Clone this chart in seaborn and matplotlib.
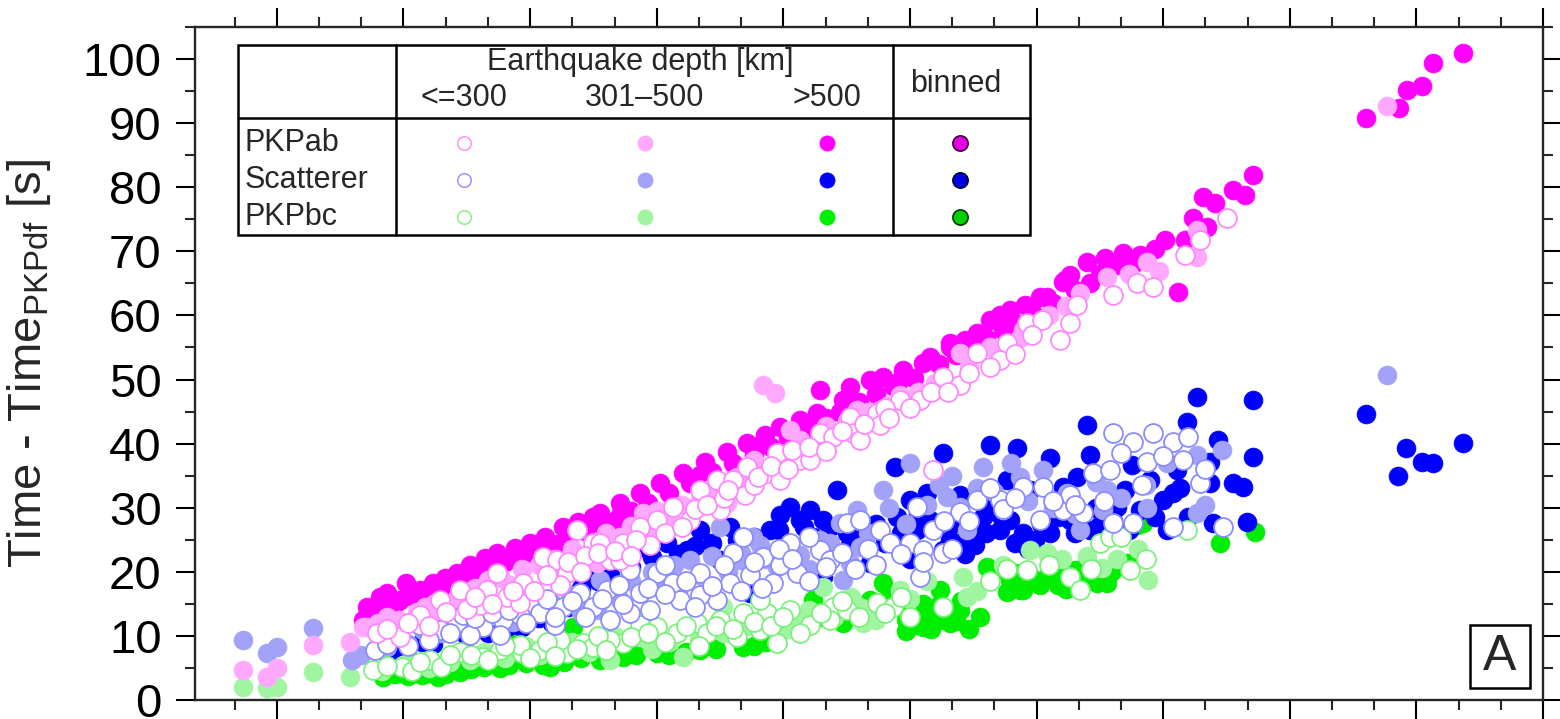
import matplotlib
matplotlib.use("Agg")
import matplotlib.pyplot as plt
from matplotlib.patches import Rectangle
from matplotlib.ticker import MultipleLocator
import seaborn as sns
import pandas as pd

# ---------------- data ----------------
phases = ["PKPab", "Scatterer", "PKPbc"]
depth_classes = ["<=300", "301–500", ">500"]
y_ticks = [0, 10, 20, 30, 40, 50, 60, 70, 80, 90, 100]

pkpab_deep = [(2.04,12.5),(2.13,14.5),(2.44,16.1),(2.61,16.7),(3.06,18.3),(2.91,15.6),(3.39,17.2),(3.70,18.3),
    (3.98,19.0),(4.27,19.8),(4.57,21.1),(4.93,22.2),(5.21,22.9),(5.69,21.8),(5.64,23.7),(6.00,24.5),(6.35,25.4),
    (6.78,27.0),(7.13,27.8),(7.49,28.5),(7.65,29.2),(8.13,30.7),(8.60,32.3),(9.08,33.9),(9.62,35.4),(10.14,37.1),
    (10.66,38.7),(11.14,40.1),(11.56,41.3),(11.92,42.6),(12.39,43.7),(12.80,44.8),(13.41,46.8),(12.87,48.4),
    (13.58,48.8),(14.05,49.9),(14.36,50.4),(14.83,51.5),(15.31,52.6),(15.47,53.5),(15.95,55.1),(15.95,55.7),
    (16.30,56.2),(16.59,56.6),(16.59,57.3),(16.90,59.3),(17.20,57.7),(17.37,60.8),(17.73,61.6),(18.08,62.9),
    (18.25,62.9),(18.63,65.2),(18.67,65.5),(19.19,68.3),(19.27,65.1),(19.62,69.0),(20.05,69.7),(20.45,69.4),
    (21.04,71.8),(21.52,71.8),(21.35,63.6),(21.71,75.2),(22.04,73.8),(21.94,78.5),(22.23,77.5),(22.65,79.6),
    (22.94,78.8),(23.13,81.9),(25.81,90.8),(26.58,92.3),(26.78,95.2),(27.13,95.8),(27.39,99.4),(28.10,100.9),
    (8.13,28.9),(10.02,35.1),(11.45,39.8),(13.34,44.9),(6.71,24.5),(4.81,20.3),(2.44,14.4),(17.13,60.1),
    (18.79,66.3),(14.76,49.9),
    (2.30,13.0),(2.80,15.0),(3.20,16.2),(3.60,16.8),(4.00,17.5),(4.40,18.8),(4.80,19.5),(5.10,21.0),(5.40,21.5),
    (5.90,22.5),(6.20,23.3),(6.50,24.0),(6.90,25.3),(7.30,26.3),(7.70,27.3),(8.00,28.0),(8.40,29.5),(8.80,30.8),
    (9.30,32.3),(9.80,33.8),(10.30,35.5),(10.80,37.0),(11.30,38.3),(11.70,39.5),(12.10,40.8),(12.60,42.5),
    (13.00,44.0),(13.80,46.5),(14.20,47.8),(14.60,49.0),(15.10,50.3),(15.70,52.5),(16.10,53.8),(16.80,56.5),
    (17.50,58.8),(17.90,60.5),(18.40,62.0),(18.90,64.0),(19.50,66.5),(19.90,67.8),(20.30,68.2),(20.80,70.3)]
pkpab_mid = [(-0.81,4.7),(-0.24,3.6),(0.00,5.0),(0.85,8.6),(1.73,9.0),(2.13,11.4),(2.61,13.0),(3.32,13.7),
    (3.74,15.1),(3.86,13.0),(2.04,11.4),(4.57,15.6),(5.52,17.9),(6.47,20.3),(7.11,26.5),(7.58,21.4),(8.67,29.2),
    (9.38,27.6),(10.66,30.7),(11.52,49.1),(11.80,47.9),(12.16,42.1),(13.74,45.2),(15.95,48.8),(16.18,54.1),
    (17.30,55.7),(17.68,57.7),(19.03,63.5),(19.67,66.0),(20.62,68.3),(21.80,69.1),(21.80,73.3),(26.30,92.7),
    (8.13,25.4),(10.02,31.2),(11.45,35.9),(12.87,40.6),(14.29,45.2),(6.00,17.2),(8.84,26.5),(14.76,47.6),
    (2.40,12.0),(2.90,12.5),(3.50,14.5),(4.10,15.0),(4.30,16.2),(4.70,17.5),(5.00,18.8),(5.30,19.0),(5.80,20.5),
    (6.20,21.0),(6.60,22.0),(7.00,23.5),(7.40,23.0),(7.80,26.0),(8.40,27.2),(9.00,29.5),(9.60,30.5),(10.30,33.0),
    (10.90,34.8),(11.30,37.5),(11.90,38.5),(12.40,40.5),(13.00,42.8),(13.50,43.5),(14.00,45.0),(14.50,46.0),
    (15.20,48.0),(15.60,49.5),(16.40,52.0),(16.90,55.0),(17.60,56.5),(18.30,60.0),(18.70,61.5),(20.20,66.5),
    (20.90,67.0)]
pkpab_shallow = [(2.37,10.5),(2.91,9.8),(4.34,17.2),(4.98,17.2),(5.45,16.1),(5.21,19.8),(5.83,18.3),(6.30,22.3),
    (6.64,21.8),(7.11,26.5),(7.49,24.5),(6.87,19.8),(7.65,24.5),(7.89,21.8),(8.20,24.5),(8.60,27.0),(9.00,28.1),
    (9.38,30.1),(10.02,32.8),(10.43,34.3),(10.81,34.3),(11.14,36.4),(11.61,35.4),(11.85,38.5),(12.39,37.4),
    (12.87,41.7),(13.18,41.0),(13.58,44.2),(13.65,41.7),(14.22,44.8),(14.76,46.8),(15.24,46.8),(15.78,50.4),
    (16.59,54.1),(17.30,55.7),(17.77,58.8),(18.13,59.3),(18.79,58.8),(18.96,61.6),(19.81,63.2),(20.38,65.0),
    (20.76,64.4),(21.52,69.4),(21.87,71.8),(22.51,75.2),(15.55,35.9),(3.39,13.3),(3.86,15.6),(5.76,15.1),
    (6.71,17.9),(4.81,14.8),(8.13,21.8),(8.84,24.2),(9.79,28.1),(10.50,29.6),(11.09,32.0),(11.92,34.3),
    (12.63,37.4),(13.82,40.6),(14.29,42.9),(16.18,49.1),(17.13,53.0),(18.55,56.2),
    (2.60,11.0),(3.10,12.0),(3.60,11.5),(4.00,13.8),(4.50,14.2),(4.70,16.0),(5.10,15.0),(5.60,17.0),(6.10,17.0),
    (6.40,19.5),(6.90,21.5),(7.30,22.5),(7.20,20.0),(7.60,23.0),(8.00,23.3),(8.50,25.0),(8.40,22.5),(9.20,26.0),
    (9.60,27.0),(9.90,29.8),(10.20,30.5),(10.60,31.5),(10.70,32.8),(11.30,33.5),(11.40,34.8),(11.70,36.5),
    (12.10,36.0),(12.20,39.0),(12.60,39.5),(13.00,38.8),(13.40,42.0),(13.90,43.0),(14.40,45.5),(14.50,44.0),
    (15.00,45.5),(15.50,48.0),(15.90,48.0),(16.40,51.0),(16.90,52.0),(17.50,54.0),(17.90,57.0)]

scat_deep = [(2.73,7.8),(3.44,9.0),(5.81,11.4),(6.52,12.0),(7.42,19.8),(8.13,21.8),(8.67,23.9),(9.24,24.5),
    (9.72,23.4),(10.02,26.5),(10.73,27.0),(11.21,16.7),(11.68,26.5),(12.16,30.1),(12.63,29.6),(12.94,28.1),
    (12.94,19.2),(13.27,32.8),(14.05,21.4),(14.64,36.4),(14.69,28.5),(15.17,26.5),(15.40,32.3),(15.78,38.5),
    (15.78,23.4),(16.18,24.5),(16.35,26.5),(16.73,28.5),(16.90,39.8),(16.90,30.7),(17.13,26.5),(17.30,34.3),
    (17.54,39.3),(17.68,26.0),(17.84,32.8),(18.32,26.0),(18.32,37.8),(18.63,33.2),(18.96,34.8),(19.19,42.9),
    (19.27,38.2),(19.27,26.5),(19.91,30.1),(20.09,32.8),(20.26,36.7),(21.00,31.2),(21.23,32.3),(21.33,35.9),
    (21.56,43.4),(21.80,47.3),(22.11,37.1),(22.11,33.9),(22.18,27.6),(22.30,40.6),(22.65,33.9),(22.89,33.2),
    (22.99,27.8),(23.13,37.9),(23.13,46.8),(25.81,44.6),(26.56,34.9),(26.75,39.3),(27.13,37.1),(27.39,37.0),
    (28.10,40.1),(14.20,27.5),(15.47,28.1),(15.95,25.0),(16.54,24.2),(17.37,28.1),(17.96,25.0),(18.79,28.1),
    (19.50,27.3),(20.45,29.6),(15.00,31.2),(16.18,32.0),(12.39,28.1),(11.92,28.9),(9.08,21.1),(7.89,19.5),
    (10.50,21.8),(13.58,24.2),(18.55,31.2),(20.69,34.3),
    (2.90,8.5),(3.70,8.8),(4.50,9.8),(5.00,10.5),(5.50,11.5),(6.20,12.8),(6.90,14.5),(7.20,17.5),(7.60,18.5),
    (8.40,20.8),(8.90,22.3),(9.50,22.8),(9.90,24.0),(10.30,24.5),(10.90,25.0),(11.30,25.5),(11.90,26.5),
    (12.50,27.0),(12.70,25.5),(13.10,27.0),(13.50,26.0),(13.90,25.5),(14.40,24.5),(14.80,26.0),(15.20,28.8),
    (15.60,26.8),(16.00,27.5),(16.50,27.0),(16.80,26.0),(17.10,29.0),(17.50,24.5),(18.10,27.5),(18.50,28.5),
    (18.90,26.0),(19.40,30.0),(19.80,28.0),(20.20,26.5),(20.80,28.5),(21.10,26.5),(21.60,28.5),(21.40,33.0),
    (12.00,22.5),(13.00,23.0),(15.00,22.0),(16.30,22.8),(17.80,23.5)]
scat_mid = [(-0.81,9.4),(-0.24,7.3),(0.00,8.3),(0.85,11.2),(1.78,6.2),(3.46,10.9),(7.58,14.0),(7.65,18.7),
    (8.67,17.2),(9.79,21.8),(10.50,27.0),(11.28,25.4),(11.85,20.7),(13.34,27.6),(13.41,18.7),(13.58,21.4),
    (13.74,29.6),(13.82,23.9),(14.36,32.8),(15.00,37.0),(15.88,31.7),(16.18,30.1),(16.35,26.5),(16.73,36.4),
    (17.20,29.6),(17.61,34.8),(18.15,35.9),(18.72,32.3),(19.03,26.5),(19.57,29.6),(19.67,32.8),(20.62,30.0),
    (21.80,38.2),(21.80,29.2),(26.30,50.7),(4.34,11.7),(5.28,13.3),(6.23,14.8),(6.94,16.4),(8.13,15.6),
    (9.08,17.9),(10.02,19.5),(10.97,21.8),(12.39,22.6),(11.45,24.2),(12.87,25.0),(2.44,9.4),
    (2.00,7.0),(2.60,8.3),(3.10,8.8),(3.90,10.5),(4.70,12.5),(5.60,12.2),(6.50,15.3),(7.20,13.8),(7.80,16.5),
    (8.40,18.5),(8.90,20.0),(9.40,21.0),(9.50,17.0),(10.30,22.5),(10.70,20.0),(11.00,23.0),(11.60,22.0),
    (12.10,23.5),(12.60,20.5),(13.10,24.5),(14.00,26.0),(14.50,30.0),(14.90,27.5),(15.40,30.5),(15.70,33.5),
    (16.00,35.0),(16.60,33.0),(17.00,32.5),(17.40,37.0),(17.80,31.0),(18.40,30.0),(18.90,29.0),(19.40,34.0),
    (20.00,31.5),(20.60,33.5),(21.10,37.0),(22.00,30.5),(22.40,39.0)]
scat_shallow = [(2.32,7.8),(2.91,9.8),(4.27,12.0),(4.88,11.4),(5.36,12.5),(6.00,15.1),(6.23,13.6),(6.78,14.5),
    (7.18,16.7),(7.49,14.5),(7.82,17.2),(8.36,20.3),(8.36,13.6),(8.60,16.7),(9.00,19.8),(9.38,18.3),(9.55,15.6),
    (10.02,19.8),(10.43,15.6),(10.73,18.3),(10.81,22.9),(11.04,25.4),(11.52,22.3),(11.75,18.3),(12.16,24.5),
    (12.32,19.8),(12.87,23.4),(13.51,27.6),(14.29,26.5),(14.53,24.5),(15.00,24.5),(15.17,30.1),(15.24,19.2),
    (15.31,23.4),(15.55,26.5),(15.78,22.9),(16.59,31.2),(17.68,33.2),(18.08,28.1),(18.15,33.2),(18.63,29.6),
    (19.10,29.2),(19.34,35.4),(19.74,35.9),(19.81,41.7),(19.81,27.6),(20.28,40.2),(20.28,27.6),(20.62,37.1),
    (20.76,41.7),(21.23,40.2),(21.23,27.0),(21.47,37.4),(21.87,33.9),(22.42,27.0),(3.39,11.7),(3.86,10.9),
    (4.57,10.1),(5.28,10.1),(5.76,13.3),(6.59,11.7),(7.89,12.5),(8.84,14.0),(10.02,16.4),(11.21,19.5),
    (11.92,21.1),(13.10,21.8),(13.82,28.1),(16.18,29.3),(17.13,31.2),(18.79,32.0),
    (2.60,8.8),(3.10,8.5),(3.60,9.3),(4.10,10.5),(4.40,13.2),(4.70,12.8),(5.10,13.5),(5.50,14.0),(5.90,12.0),
    (6.40,15.8),(6.60,13.0),(7.00,15.5),(7.30,13.0),(7.70,15.8),(8.10,18.0),(8.20,15.0),(8.80,17.5),(9.20,16.5),
    (9.20,21.0),(9.70,18.5),(9.90,14.5),(10.30,17.8),(10.60,21.0),(11.00,17.0),(11.30,21.5),(11.50,17.5),
    (11.90,23.5),(12.20,22.0),(12.60,18.5),(12.60,25.5),(13.00,20.8),(13.40,23.0),(13.70,20.5),(14.00,23.5),
    (14.20,21.0),(14.80,22.8),(15.30,21.5),(15.80,28.0),(16.00,23.5),(16.40,28.0),(16.90,33.0),(17.20,29.8),
    (17.50,31.5),(18.40,31.0),(18.90,30.5),(19.60,31.0),(20.00,38.5),(20.50,33.5),(21.00,38.0),(21.60,41.0),
    (22.00,36.0)]

bc_deep = [(2.51,3.6),(3.44,3.9),(3.82,3.6),(5.69,9.4),(6.47,5.1),(7.01,11.4),(8.20,6.7),(9.00,7.3),(10.02,7.8),
    (11.04,8.3),(12.70,15.6),(12.87,13.0),(13.41,12.0),(14.36,18.3),(14.76,14.5),(15.31,11.4),(15.55,13.6),
    (15.71,17.2),(15.95,12.0),(16.66,13.0),(17.06,20.3),(17.37,18.7),(17.68,17.2),(18.63,19.2),(19.19,21.4),
    (19.43,18.3),(19.67,18.3),(19.74,19.8),(19.81,20.3),(20.14,21.4),(20.38,27.3),(20.52,27.6),(22.35,24.5),
    (23.18,26.2),(4.34,4.4),(5.28,5.0),(7.65,6.2),(15.71,12.5),(15.12,11.7),(16.18,14.0),(14.05,15.6),(18.08,17.9),
    (2.80,4.0),(3.10,3.8),(3.60,4.2),(4.00,4.0),(4.60,4.8),(4.90,5.2),(5.50,5.5),(5.90,5.8),(6.30,5.5),(6.80,6.0),
    (7.20,6.5),(7.90,6.5),(8.50,7.0),(9.30,7.0),(9.70,7.5),(10.40,8.0),(11.30,8.5),(11.60,9.0),
    (14.30,14.0),(14.50,16.0),(14.90,12.5),(15.10,13.5),(15.40,12.8),(15.30,15.0),(15.70,14.8),(15.90,13.8),
    (16.10,12.3),(16.40,11.0),(16.20,15.5),(15.50,11.0),(14.90,10.8),
    (17.30,16.8),(17.50,19.8),(17.90,19.0),(18.30,19.8),(18.50,18.0),(18.90,20.3),(19.00,18.5),(19.40,20.0),
    (18.70,17.3),(16.82,20.7),(17.61,17.2)]
bc_mid = [(-0.81,2.0),(-0.24,1.9),(0.00,2.0),(0.85,4.4),(1.73,3.6),(3.22,5.8),(7.89,6.2),(8.60,9.8),(9.62,6.7),
    (10.57,14.5),(12.94,17.6),(13.82,14.5),(13.89,12.0),(16.26,19.2),(16.35,16.1),(17.84,23.4),(18.25,22.9),
    (19.55,20.6),(20.64,18.7),(4.57,6.2),(6.23,7.0),(11.92,10.9),(12.39,12.5),(14.76,17.2),
    (2.50,4.5),(3.00,5.5),(3.60,5.0),(4.10,6.0),(4.90,7.5),(5.40,6.5),(5.90,8.5),(6.60,8.0),(7.00,9.0),(7.40,7.5),
    (8.00,10.0),(8.90,8.0),(9.30,9.0),(10.00,9.5),(10.60,10.5),(11.20,11.5),(11.70,12.5),(12.10,11.0),
    (12.60,14.0),(13.20,13.0),(13.60,16.0),(14.20,12.5),(15.00,15.8),(15.40,18.5),(16.60,17.0),(17.20,21.0),
    (18.60,22.0),(19.20,22.5),(19.90,22.0),(20.40,23.5)]
bc_shallow = [(2.27,4.7),(2.96,5.1),(4.34,7.5),(4.88,6.7),(5.28,7.8),(5.81,7.3),(6.23,7.8),(6.87,7.3),(7.25,8.9),
    (7.49,8.3),(8.20,8.9),(9.00,11.4),(9.48,10.5),(9.95,12.0),(10.19,10.5),(10.90,9.8),(11.04,13.6),(11.61,13.6),
    (11.85,8.9),(12.16,14.0),(13.18,14.5),(13.51,14.0),(14.22,15.1),(14.60,14.5),(15.00,13.0),(15.78,14.5),
    (17.77,20.3),(18.79,19.2),(19.03,17.2),(19.50,24.5),(19.74,25.4),(20.21,20.3),(21.56,26.5),(3.63,6.2),
    (5.76,8.6),(6.71,9.4),(7.89,9.4),(8.60,11.7),(10.50,12.5),(11.45,10.9),(12.63,11.7),(13.10,12.5),(11.45,15.6),
    (2.60,5.3),(3.20,4.5),(3.40,6.0),(3.90,5.2),(4.10,7.0),(4.60,7.0),(5.00,6.3),(5.40,8.5),(6.00,6.5),(6.40,9.0),
    (6.60,6.8),(7.10,8.0),(7.60,10.0),(7.80,7.8),(8.40,9.8),(8.80,10.5),(9.20,9.0),(9.70,11.5),(10.00,8.5),
    (10.40,11.5),(10.80,11.0),(11.30,12.2),(11.70,11.5),(12.00,13.0),(12.40,10.5),(12.90,13.5),(13.40,15.5),
    (13.80,13.0),(14.40,13.5),(14.80,16.0),(16.90,18.5),(17.30,20.5),(18.30,21.0),(19.30,20.5),(20.60,22.0),
    (20.00,25.5)]

groups = {
    ("PKPab", ">500"): pkpab_deep, ("PKPab", "301–500"): pkpab_mid, ("PKPab", "<=300"): pkpab_shallow,
    ("Scatterer", ">500"): scat_deep, ("Scatterer", "301–500"): scat_mid, ("Scatterer", "<=300"): scat_shallow,
    ("PKPbc", ">500"): bc_deep, ("PKPbc", "301–500"): bc_mid, ("PKPbc", "<=300"): bc_shallow,
}
rows = []
for (ph, dc), pts in groups.items():
    for x, y in pts:
        rows.append({"phase": ph, "depth": dc, "x": x, "y": y})
df = pd.DataFrame(rows)

# ---------------- styles ----------------
base = {"PKPab": "#ff00ff", "Scatterer": "#0000ff", "PKPbc": "#00ee00"}
light = {"PKPab": "#ffa8ff", "Scatterer": "#a2a2f8", "PKPbc": "#a0f5a0"}
ring = {"PKPab": "#ff88ff", "Scatterer": "#8c8cff", "PKPbc": "#7cf07c"}
binned = {"PKPab": ("#e000e0", "#3a003a"), "Scatterer": ("#0000e0", "#00003a"), "PKPbc": ("#00d000", "#003a00")}

def style_for(ph, dc):
    if dc == ">500":
        return dict(color=base[ph], edgecolor=base[ph], linewidth=0.5)
    if dc == "301–500":
        return dict(color=light[ph], edgecolor=light[ph], linewidth=0.5)
    return dict(color="white", edgecolor=ring[ph], linewidth=1.3)

sns.set_style("ticks")
plt.rcParams["font.family"] = ["Liberation Sans", "DejaVu Sans"]
plt.rcParams["mathtext.fontset"] = "custom"
plt.rcParams["mathtext.rm"] = "Liberation Sans"

fig = plt.figure(figsize=(15.6, 7.19), dpi=100)
ax = fig.add_axes([195/1560, 19/719, 1348/1560, 673/719])

for dc in [">500", "301–500", "<=300"]:
    for ph in ["PKPbc", "Scatterer", "PKPab"]:
        sub = df[(df.phase == ph) & (df.depth == dc)]
        sns.scatterplot(data=sub, x="x", y="y", marker="o", s=185, ax=ax, legend=False,
                        **style_for(ph, dc))

ax.set_xlim(-1.94, 30.0)
ax.set_ylim(0, 105)
ax.xaxis.set_major_locator(MultipleLocator(3))
ax.xaxis.set_minor_locator(MultipleLocator(1))
ax.set_yticks(y_ticks)
ax.yaxis.set_minor_locator(MultipleLocator(5))
ax.tick_params(which="major", direction="out", length=14, width=1.5, top=True, right=True,
               labelsize=34, pad=10, colors="black")
ax.tick_params(which="minor", direction="out", length=7, width=1.5, top=True, right=True)
ax.tick_params(axis="x", labelbottom=False)
for sp in ax.spines.values():
    sp.set_linewidth(1.7)
    sp.set_visible(True)
ax.set_xlabel("")
ax.set_ylabel(r"Time - Time$_\mathregular{PKPdf}$ [s]", fontsize=34)
ax.yaxis.set_label_coords(-0.105, 0.5)

# ---------------- table legend ----------------
T = ax.transAxes
L, R, D1, D2 = 0.0317, 0.6194, 0.1491, 0.5178
TOP, BOT, HL = 0.9733, 0.6909, 0.8648
ax.add_patch(Rectangle((L, BOT), R - L, TOP - BOT, transform=T, facecolor="white",
                       edgecolor="black", linewidth=1.8, zorder=10))
ax.plot([L, R], [HL, HL], transform=T, color="black", lw=1.8, zorder=11)
ax.plot([D1, D1], [BOT, TOP], transform=T, color="black", lw=1.8, zorder=11)
ax.plot([D2, D2], [BOT, TOP], transform=T, color="black", lw=1.8, zorder=11)
fs = 22
ax.text(0.330, 0.948, "Earthquake depth [km]", transform=T, ha="center", va="center", fontsize=fs, zorder=12)
col_x = {"<=300": 0.1996, "301–500": 0.3338, ">500": 0.4688}
for dc in depth_classes:
    ax.text(col_x[dc], 0.8945, dc, transform=T, ha="center", va="center", fontsize=fs, zorder=12)
ax.text(0.5645, 0.915, "binned", transform=T, ha="center", va="center", fontsize=fs, zorder=12)
row_y = {"PKPab": 0.8276, "Scatterer": 0.7727, "PKPbc": 0.7177}
for ph in phases:
    ax.text(0.037, row_y[ph], ph, transform=T, ha="left", va="center", fontsize=fs, zorder=12)
    for dc in depth_classes:
        st = style_for(ph, dc)
        ax.scatter([col_x[dc]], [row_y[ph]], transform=T, s=(95 if dc == "<=300" else 120),
                   c=st["color"], edgecolors=st["edgecolor"], linewidths=(1.0 if dc == "<=300" else 0.5),
                   zorder=12, clip_on=False)
    fc, ec = binned[ph]
    ax.scatter([0.5675], [row_y[ph]], transform=T, s=120, c=fc, edgecolors=ec, linewidths=1.2,
               zorder=12, clip_on=False)

# ---------------- panel label ----------------
ax.add_patch(Rectangle((0.9458, 0.0178), 0.0446, 0.0936, transform=T, facecolor="white",
                       edgecolor="black", linewidth=1.8, zorder=10))
ax.text(0.9681, 0.0646, "A", transform=T, ha="center", va="center", fontsize=36, zorder=12)

fig.savefig("out.png", dpi=100)
